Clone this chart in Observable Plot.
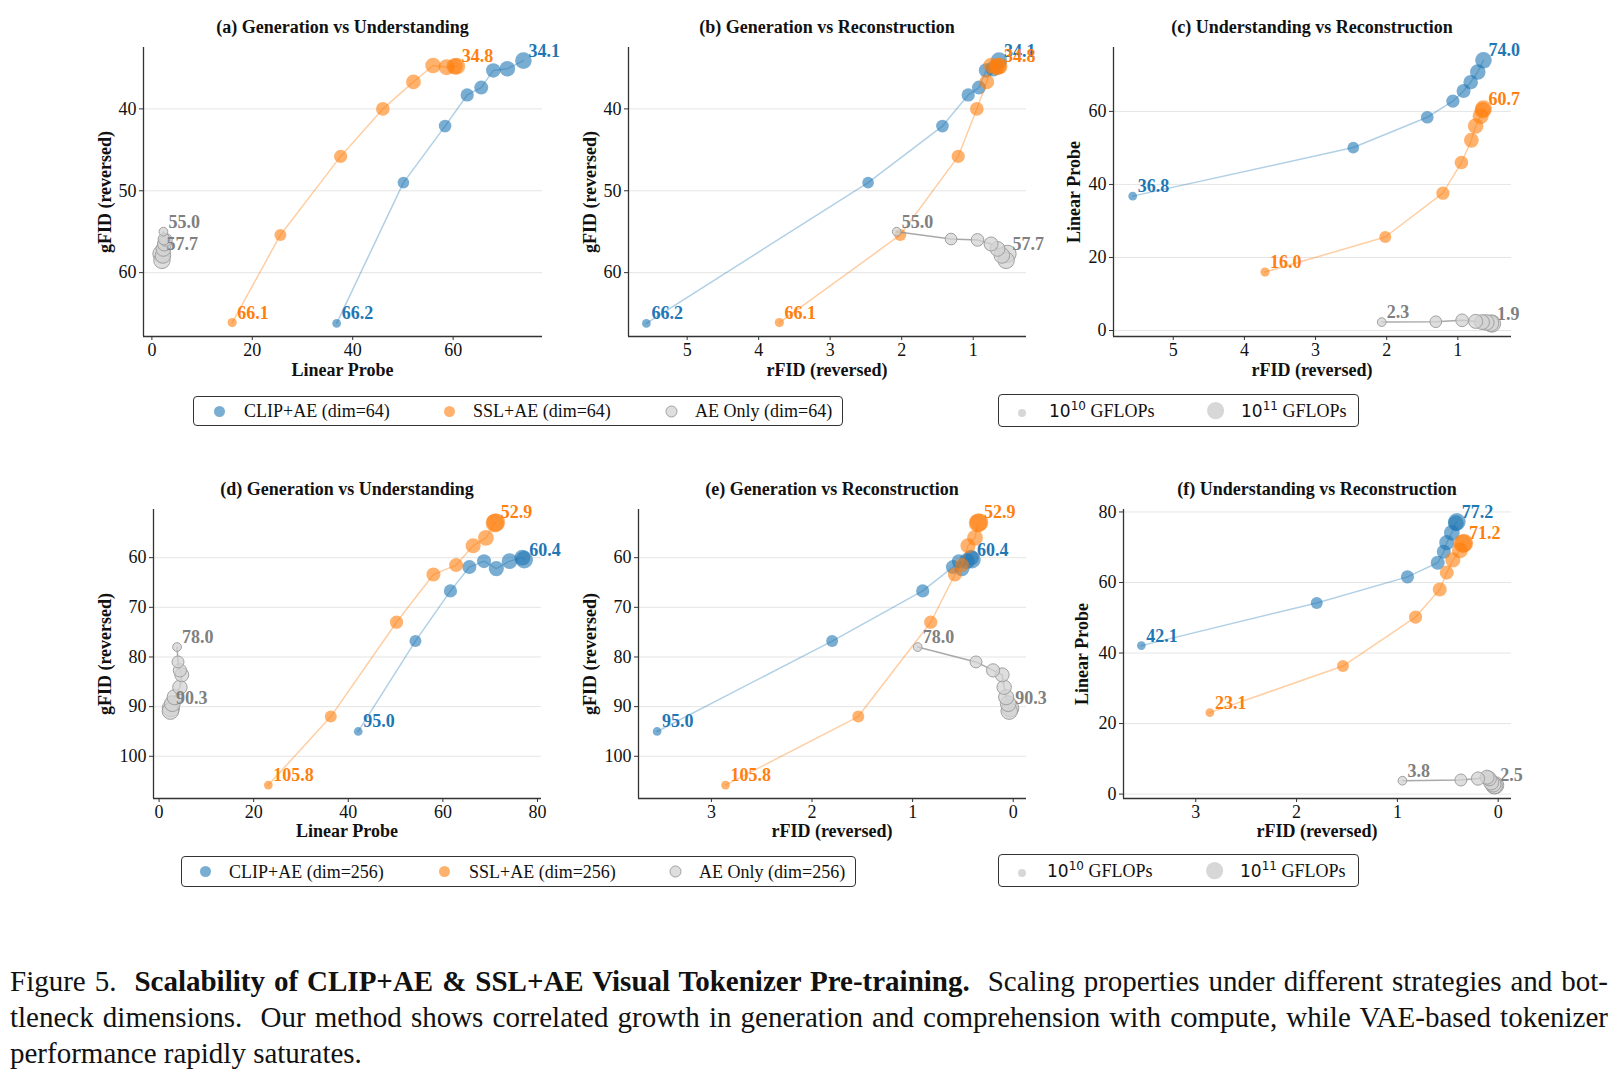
<!DOCTYPE html>
<html><head><meta charset="utf-8">
<script src="https://cdn.jsdelivr.net/npm/d3@7"></script>
<script src="https://cdn.jsdelivr.net/npm/@observablehq/plot@0.6"></script>
<style>
body{margin:0;background:#fff;}
#root{position:relative;width:1619px;height:1080px;font-family:"Liberation Serif","Times New Roman",serif;color:#111;overflow:hidden;background:#fff}
.title,.xlab{position:absolute;font-weight:bold;font-size:18px;transform:translate(-50%,-50%);white-space:nowrap}
.ylab{position:absolute;font-weight:bold;font-size:18px;transform:translate(-50%,-50%) rotate(-90deg);white-space:nowrap}
.legend{position:absolute;border:1px solid #333;border-radius:4px;background:#fff;box-sizing:border-box}
.litem{position:absolute;font-size:18px;white-space:nowrap;transform:translateY(-50%)}
.ldot{position:absolute;overflow:visible}
.sans{font-family:"DejaVu Sans",sans-serif;font-size:17px}
.sans sup{font-size:12px;vertical-align:7px;line-height:0}
.cap{position:absolute;left:10px;width:1598px;font-size:29px;line-height:36px;white-space:nowrap;text-align:justify;text-align-last:justify}
.cap.last{text-align-last:left}
</style></head>
<body><div id="root"></div>
<script>
// ---------- Data: bottleneck dim = 64 ----------
const clip64LP     = [36.8, 50.1, 58.4, 62.8, 65.6, 68.0, 70.8, 74.0];
const clip64rFID   = [5.57, 2.47, 1.43, 1.07, 0.92, 0.82, 0.72, 0.64];
const clip64gFID   = [66.2, 49.0, 42.1, 38.3, 37.4, 35.3, 35.1, 34.1];
const clip64GFLOPs = [1.2e10, 2.5e10, 3.2e10, 3.7e10, 4.5e10, 5.2e10, 6.7e10, 8.6e10];

const ssl64LP      = [16.0, 25.6, 37.6, 46.0, 52.1, 56.0, 58.7, 60.3, 60.7];
const ssl64rFID    = [3.71, 2.02, 1.21, 0.95, 0.81, 0.75, 0.68, 0.65, 0.64];
const ssl64gFID    = [66.1, 55.4, 45.8, 40.0, 36.7, 34.7, 34.9, 34.8, 34.8];
const ssl64GFLOPs  = [1.35e10, 2.7e10, 3.7e10, 4.1e10, 5.5e10, 6.7e10, 7.4e10, 8.2e10, 9.5e10];

const ae64LP       = [2.3, 2.4, 2.8, 2.5, 2.3, 2.2, 2.0, 1.9];
const ae64rFID     = [2.07, 1.31, 0.94, 0.75, 0.66, 0.60, 0.54, 0.52];
const ae64gFID     = [55.0, 55.9, 56.0, 56.5, 57.1, 57.9, 58.5, 57.7];
const ae64GFLOPs   = [1.2e10, 2.5e10, 3.2e10, 4.5e10, 5.5e10, 6.7e10, 8.2e10, 1.0e11];

// ---------- Data: bottleneck dim = 256 ----------
const clip256LP     = [42.1, 54.2, 61.6, 65.6, 68.7, 71.3, 74.1, 76.8, 77.2];
const clip256rFID   = [3.54, 1.80, 0.90, 0.60, 0.54, 0.51, 0.46, 0.42, 0.41];
const clip256gFID   = [95.0, 76.8, 66.7, 61.9, 60.7, 62.2, 60.7, 60.0, 60.4];
const clip256GFLOPs = [1.2e10, 2.7e10, 3.7e10, 4.5e10, 4.5e10, 6.0e10, 7.0e10, 7.0e10, 1.1e11];

const ssl256LP      = [23.1, 36.3, 50.2, 58.0, 62.8, 66.4, 69.1, 71.0, 71.2];
const ssl256rFID    = [2.86, 1.54, 0.82, 0.58, 0.51, 0.45, 0.38, 0.35, 0.34];
const ssl256gFID    = [105.8, 92.0, 73.0, 63.4, 61.5, 57.6, 56.0, 53.0, 52.9];
const ssl256GFLOPs  = [1.2e10, 2.7e10, 3.7e10, 4.5e10, 4.5e10, 6.0e10, 7.0e10, 1.4e11, 1.4e11];

const ae256LP       = [3.8, 4.0, 4.4, 4.8, 4.4, 3.3, 2.8, 2.4, 2.5];
const ae256rFID     = [0.95, 0.37, 0.20, 0.11, 0.09, 0.07, 0.05, 0.04, 0.03];
const ae256gFID     = [78.0, 81.0, 82.7, 83.6, 86.1, 88.1, 89.4, 90.9, 90.3];
const ae256GFLOPs   = [1.2e10, 2.7e10, 3.7e10, 4.5e10, 5.0e10, 6.0e10, 7.0e10, 8.5e10, 1.0e11];

const seriesNames64  = ["CLIP+AE (dim=64)", "SSL+AE (dim=64)", "AE Only (dim=64)"];
const seriesNames256 = ["CLIP+AE (dim=256)", "SSL+AE (dim=256)", "AE Only (dim=256)"];
const sizeLegend = [1e10, 1e11];

// tick labels
const ticksLP64 = [0, 20, 40, 60];
const ticksLP256 = [0, 20, 40, 60, 80];
const ticksR64 = [5, 4, 3, 2, 1];
const ticksR256 = [3, 2, 1, 0];
const ticksG64 = [40, 50, 60];
const ticksG256 = [60, 70, 80, 90, 100];
const ticksLPy64 = [0, 20, 40, 60];
const ticksLPy256 = [0, 20, 40, 60, 80];

// ---------- Styling ----------
const STY = {
  clip: {fill:"#1f77b4", fillOpacity:0.6, stroke:"none", line:"#1f77b4", lineOpacity:0.35, text:"#1f77b4"},
  ssl:  {fill:"#ff7f0e", fillOpacity:0.6, stroke:"none", line:"#ff7f0e", lineOpacity:0.38, text:"#ff7f0e"},
  ae:   {fill:"#d3d3d3", fillOpacity:0.75, stroke:"#a0a0a0", line:"#8c8c8c", lineOpacity:0.75, text:"#808080"}
};
function rows(lp, rfid, gfid, flops){ return lp.map((v,i)=>({lp:v, rfid:rfid[i], gfid:gfid[i], flops:flops[i]})); }
const S64 = [
  {sty:STY.clip, data:rows(clip64LP, clip64rFID, clip64gFID, clip64GFLOPs)},
  {sty:STY.ssl,  data:rows(ssl64LP, ssl64rFID, ssl64gFID, ssl64GFLOPs)},
  {sty:STY.ae,   data:rows(ae64LP, ae64rFID, ae64gFID, ae64GFLOPs)}
];
const S256 = [
  {sty:STY.clip, data:rows(clip256LP, clip256rFID, clip256gFID, clip256GFLOPs)},
  {sty:STY.ssl,  data:rows(ssl256LP, ssl256rFID, ssl256gFID, ssl256GFLOPs)},
  {sty:STY.ae,   data:rows(ae256LP, ae256rFID, ae256gFID, ae256GFLOPs)}
];
const rScale = {type:"log", domain:[1e10, 1e11], range:[4, 8.6]};
const fmt = d3.format(".1f");
const root = document.getElementById("root");

function add(cls, html, css){ const d=document.createElement("div"); d.className=cls; d.innerHTML=html; Object.assign(d.style, css); root.appendChild(d); return d; }

function panel(p){
  const [L,T,R,B] = p.frame;
  const m = {l:60, r:70, t:30, b:40};
  const marks = [Plot.gridY(p.yTicks, {stroke:"#cfcfcf", strokeOpacity:0.55, strokeWidth:1})];
  for (const s of p.series) {
    marks.push(Plot.line(s.data, {x:p.xKey, y:p.yKey, stroke:s.sty.line, strokeOpacity:s.sty.lineOpacity, strokeWidth:1.5}));
    marks.push(Plot.dot(s.data, {x:p.xKey, y:p.yKey, r:"flops", fill:s.sty.fill, fillOpacity:s.sty.fillOpacity, stroke:s.sty.stroke, strokeWidth:1}));
  }
  for (const s of p.series) {
    const ends = [s.data[0], s.data[s.data.length-1]];
    marks.push(Plot.text(ends, {x:p.xKey, y:p.yKey, text:d=>fmt(d[p.yKey]), dx:5, dy:-4, lineAnchor:"bottom", textAnchor:"start", fill:s.sty.text, fontWeight:"bold", fontSize:18}));
  }
  marks.push(Plot.ruleX([p.xDomain[0]], {stroke:"#333", strokeWidth:1.3}));
  marks.push(Plot.ruleY([p.yDomain[0]], {stroke:"#333", strokeWidth:1.3}));
  marks.push(Plot.axisX(p.xTicks, {tickSize:4, tickPadding:3, label:null, stroke:"#333", fontSize:18}));
  marks.push(Plot.axisY(p.yTicks, {tickSize:4, tickPadding:3, label:null, stroke:"#333", fontSize:18}));
  const svg = Plot.plot({
    width:(R-L)+m.l+m.r, height:(B-T)+m.t+m.b,
    marginLeft:m.l, marginRight:m.r, marginTop:m.t, marginBottom:m.b,
    x:{domain:p.xDomain}, y:{domain:p.yDomain}, r:rScale,
    style:{fontFamily:'"Liberation Serif","Times New Roman",serif', fontSize:"18px", color:"#111", background:"transparent", overflow:"visible"},
    marks
  });
  svg.style.position="absolute"; svg.style.left=(L-m.l)+"px"; svg.style.top=(T-m.t)+"px";
  root.appendChild(svg);
  add("title", p.title, {left:((L+R)/2)+"px", top:p.titleY+"px"});
  add("xlab", p.xLabel, {left:((L+R)/2)+"px", top:p.xLabelY+"px"});
  add("ylab", p.yLabel, {left:p.yLabelX+"px", top:((T+B)/2)+"px"});
}

panel({title:"(a) Generation vs Understanding", frame:[143,47,542,336], titleY:27, xLabelY:370, yLabelX:105,
  xKey:"lp", yKey:"gfid", xDomain:[-1.67,77.8], yDomain:[67.8,32.5], xTicks:ticksLP64, yTicks:ticksG64,
  xLabel:"Linear Probe", yLabel:"gFID (reversed)", series:S64});
panel({title:"(b) Generation vs Reconstruction", frame:[628,47,1026,336], titleY:27, xLabelY:370, yLabelX:590,
  xKey:"rfid", yKey:"gfid", xDomain:[5.82,0.255], yDomain:[67.8,32.5], xTicks:ticksR64, yTicks:ticksG64,
  xLabel:"rFID (reversed)", yLabel:"gFID (reversed)", series:S64});
panel({title:"(c) Understanding vs Reconstruction", frame:[1113,47,1511,336], titleY:27, xLabelY:370, yLabelX:1074,
  xKey:"rfid", yKey:"lp", xDomain:[5.84,0.246], yDomain:[-1.64,77.5], xTicks:ticksR64, yTicks:ticksLPy64,
  xLabel:"rFID (reversed)", yLabel:"Linear Probe", series:S64});
panel({title:"(d) Generation vs Understanding", frame:[153,509,541,798], titleY:489, xLabelY:831, yLabelX:105,
  xKey:"lp", yKey:"gfid", xDomain:[-1.18,80.85], yDomain:[108.5,50.3], xTicks:ticksLP256, yTicks:ticksG256,
  xLabel:"Linear Probe", yLabel:"gFID (reversed)", series:S256});
panel({title:"(e) Generation vs Reconstruction", frame:[638,509,1026,798], titleY:489, xLabelY:831, yLabelX:590,
  xKey:"rfid", yKey:"gfid", xDomain:[3.725,-0.132], yDomain:[108.5,50.3], xTicks:ticksR256, yTicks:ticksG256,
  xLabel:"rFID (reversed)", yLabel:"gFID (reversed)", series:S256});
panel({title:"(f) Understanding vs Reconstruction", frame:[1123,509,1511,798], titleY:489, xLabelY:831, yLabelX:1082,
  xKey:"rfid", yKey:"lp", xDomain:[3.717,-0.132], yDomain:[-1.25,80.7], xTicks:ticksR256, yTicks:ticksLPy256,
  xLabel:"rFID (reversed)", yLabel:"Linear Probe", series:S256});

// ---------- Legends ----------
const rFn = d3.scaleLog().domain(rScale.domain).range(rScale.range);
function dot(cx, cy, r, fill, op, stroke){
  const s = `<svg width="${2*r+4}" height="${2*r+4}" style="overflow:visible"><circle cx="${r+2}" cy="${r+2}" r="${r}" fill="${fill}" fill-opacity="${op}" stroke="${stroke||'none'}" stroke-width="1"/></svg>`;
  add("ldot", s, {left:(cx-r-2)+"px", top:(cy-r-2)+"px"});
}
function seriesLegend(box, dots, texts, names){
  add("legend", "", {left:box[0]+"px", top:box[1]+"px", width:(box[2]-box[0])+"px", height:(box[3]-box[1])+"px"});
  const cy=(box[1]+box[3])/2;
  const st=[STY.clip, STY.ssl, STY.ae];
  names.forEach((n,i)=>{
    dot(dots[i], cy, 5.5, st[i].fill, st[i].fillOpacity, st[i].stroke);
    add("litem", n, {left:texts[i]+"px", top:cy+"px"});
  });
}
function sizeLeg(box, dots, texts){
  add("legend", "", {left:box[0]+"px", top:box[1]+"px", width:(box[2]-box[0])+"px", height:(box[3]-box[1])+"px"});
  const cy=(box[1]+box[3])/2;
  sizeLegend.forEach((v,i)=>{
    dot(dots[i], cy, rFn(v), "#d3d3d3", 0.9, "none");
    const e = Math.round(Math.log10(v));
    add("litem", `<span class="sans">10<sup>${e}</sup></span> GFLOPs`, {left:texts[i]+"px", top:cy+"px"});
  });
}
seriesLegend([193,396,843,426],[219,449,671],[244,473,695], seriesNames64);
sizeLeg([998,394,1359,427],[1022,1216],[1049,1241]);
seriesLegend([181,856,856,887],[205,444,675],[229,469,699], seriesNames256);
sizeLeg([998,854,1359,887],[1022,1215],[1047,1240]);

// ---------- Caption ----------
add("cap", `Figure 5.&nbsp; <b>Scalability of CLIP+AE &amp; SSL+AE Visual Tokenizer Pre-training.</b>&nbsp; Scaling properties under different strategies and bot-`, {top:"963px"});
add("cap", `tleneck dimensions.&nbsp; Our method shows correlated growth in generation and comprehension with compute, while VAE-based tokenizer`, {top:"999px"});
add("cap last", `performance rapidly saturates.`, {top:"1035px"});
</script>
</body></html>
